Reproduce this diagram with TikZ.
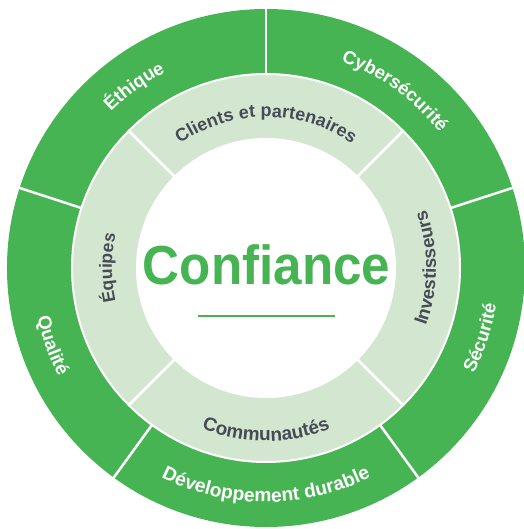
\documentclass[tikz,border=0pt]{standalone}
\usepackage{fontspec}
\setmainfont{Liberation Sans}
\usetikzlibrary{decorations.text,calc}
\definecolor{cgreen}{HTML}{47B454}
\definecolor{clight}{HTML}{D3E6CF}
\definecolor{cgray}{HTML}{464C55}
\newcommand\ringfont[1]{\bfseries\fontsize{#1}{#1}\selectfont}
% clockwise label (tops outward): angle, radius, text, colour, size
\newcommand\CWlabel[5]{%
  \path[decorate,decoration={text along path,text align=center,text color=#4,
    text={|\ringfont{#5}|#3}}]
    (#1+90:#2) arc[start angle=#1+90,end angle=#1-90,radius=#2];}
% counter-clockwise label (tops inward)
\newcommand\CCWlabel[5]{%
  \path[decorate,decoration={text along path,text align=center,text color=#4,
    text={|\ringfont{#5}|#3}}]
    (#1-90:#2) arc[start angle=#1-90,end angle=#1+90,radius=#2];}
\begin{document}
\begin{tikzpicture}[x=1pt,y=1pt,
  sep/.style={white,line width=2.5pt},
  title/.style={font=\bfseries\fontsize{55}{55}\selectfont,text=cgreen,xscale=0.93,anchor=base,inner sep=0pt}]
\useasboundingbox (-266,-261) rectangle (257,268);
\coordinate (O) at (0,0);
% rings
\fill[cgreen] (O) circle[radius=259];
\fill[clight] (O) circle[radius=194];
\draw[white,line width=2pt] (O) circle[radius=194];
\fill[white] (O) circle[radius=130];
% separators, outer ring
\foreach \a in {18,90,162,234,306}
  \draw[sep] (\a:194) -- (\a:262);
% separators, middle ring
\foreach \a in {45,135,225,315}
  \draw[sep] (\a:129) -- (\a:194);
% outer labels
\CWlabel{126}{220}{Éthique}{white}{18.5}
\CWlabel{54}{220}{Cybersécurité}{white}{18.5}
\CCWlabel{342}{233}{Sécurité}{white}{18.5}
\CCWlabel{270}{234}{Développement durable}{white}{19.2}
\CCWlabel{200}{234}{Qualité}{white}{18.5}
% middle labels
\CWlabel{90}{151}{Clients et partenaires}{cgray}{18}
\CWlabel{180}{154}{Équipes}{cgray}{17.6}
\CCWlabel{270}{173}{Communautés}{cgray}{19}
\CCWlabel{0}{170}{Investisseurs}{cgray}{18.5}
% centre
\node[title] (conf) at (0.5,-17) {Confiance};
\coordinate (l1) at (-68,-48);
\coordinate (l2) at (69,-48);
\draw[cgreen,line width=2pt] (l1) -- (l2);
\end{tikzpicture}
\end{document}
